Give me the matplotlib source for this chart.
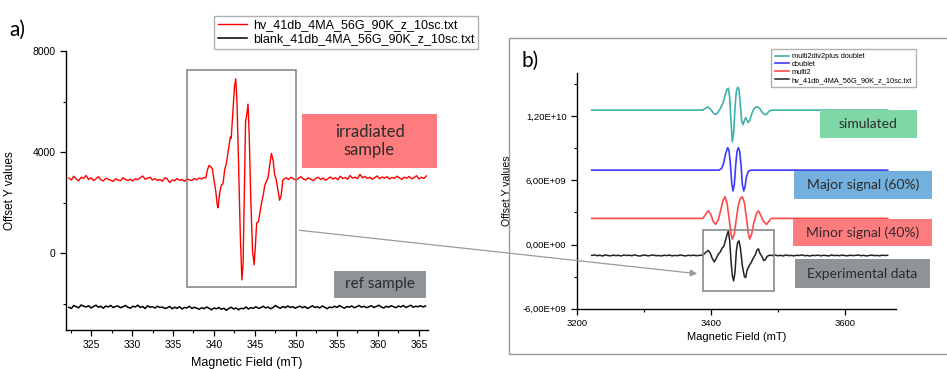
import matplotlib
matplotlib.use("Agg")
import matplotlib.pyplot as plt
from matplotlib.patches import Rectangle, FancyArrowPatch
from matplotlib.ticker import MultipleLocator, FuncFormatter
import numpy as np

plt.rcParams['font.family'] = ['Liberation Sans', 'DejaVu Sans']

# ---- panel a) data, field in mT, intensity in a.u. ----
# baseline sweeps read at 0.3 mT steps
red_left = [2980, 2900, 3050, 2940, 2870, 3010, 2960, 3080, 2920, 2990,
	2880, 2950, 3030, 2910, 2860, 2970, 2930, 2890, 2840, 2950,
	2900, 2870, 2990, 2920, 2880, 2930, 2860, 2950, 2910, 2990,
	3060, 2930, 2970, 3010, 2900, 2960, 2880, 2920, 2850, 2990,
	2940, 2800, 2900, 2870, 2960, 2890, 2920, 2850, 2950, 2900,
	2880, 2960, 2910, 2980, 2940, 3000]
red_peak_x = [339.0, 339.2, 339.4, 339.6, 339.8, 340.0, 340.2, 340.4, 340.5, 340.7,
	340.9, 341.1, 341.3, 341.5, 341.6, 341.8, 342.0, 342.1, 342.3, 342.5,
	342.65, 342.8, 343.0, 343.2, 343.4, 343.55, 343.7, 343.85, 344.0, 344.15,
	344.3, 344.5, 344.7, 344.9, 345.05, 345.2, 345.4, 345.6, 345.8, 346.0,
	346.2, 346.4, 346.6, 346.8, 347.0, 347.2, 347.4, 347.6, 347.8, 348.0,
	348.2, 348.4, 348.6]
red_peak_y = [2980, 3300, 3480, 3420, 3350, 2900, 2500, 1900, 1800, 2400,
	2700, 2750, 3300, 3550, 3750, 4200, 4600, 4550, 5600, 6600,
	6900, 6000, 3500, 800, -1050, -400, 2500, 5200, 5500, 5900,
	4600, 2000, 100, -450, 300, 1200, 1250, 1600, 2000, 2300,
	2700, 2850, 3000, 3500, 3950, 3700, 3100, 2900, 2500, 2100,
	2300, 2900, 2950]
red_right = [2990, 2920, 3010, 2950, 2880, 2970, 3030, 2940, 2900, 2990,
	2930, 2870, 2960, 3010, 2920, 2980, 2890, 2950, 3020, 2940,
	2990, 2910, 3050, 2960, 3000, 2930, 3080, 2970, 3010, 2950,
	3120, 2990, 3040, 2960, 3010, 2930, 2990, 3060, 2950, 3020,
	2970, 3030, 2940, 3000, 2960, 3050, 2990, 2920, 3010, 2970,
	3040, 2950, 2990, 3070, 2940, 3010, 2960, 3060]
blank = [-2130, -2180, -2060, -2110, -2150, -2040, -2090, -2120, -2070, -2160,
	-2100, -2050, -2130, -2090, -2170, -2080, -2120, -2060, -2140, -2100,
	-2080, -2150, -2110, -2060, -2130, -2170, -2090, -2120, -2050, -2140,
	-2100, -2180, -2070, -2130, -2110, -2160, -2090, -2140, -2120, -2180,
	-2150, -2100, -2190, -2130, -2170, -2110, -2200, -2140, -2160, -2090,
	-2180, -2130, -2170, -2210, -2150, -2190, -2120, -2170, -2230, -2160,
	-2190, -2140, -2210, -2170, -2250, -2180, -2130, -2200, -2160, -2230,
	-2170, -2190, -2120, -2200, -2140, -2180, -2110, -2170, -2150, -2090,
	-2160, -2120, -2190, -2140, -2060, -2130, -2170, -2100, -2150, -2080,
	-2140, -2110, -2170, -2120, -2090, -2150, -2100, -2180, -2130, -2070,
	-2140, -2110, -2160, -2080, -2130, -2190, -2120, -2150, -2090, -2140,
	-2060, -2120, -2170, -2100, -2130, -2080, -2150, -2110, -2060, -2130,
	-2090, -2150, -2110, -2070, -2140, -2100, -2050, -2120, -2160, -2090,
	-2130, -2070, -2110, -2150, -2080, -2120, -2060, -2140, -2100, -2050,
	-2130, -2090, -2110, -2070, -2120, -2080]
labels_a = ["hv_41db_4MA_56G_90K_z_10sc.txt", "blank_41db_4MA_56G_90K_z_10sc.txt"]

# ---- panel b) data, intensity in units of 1e9 ----
sim_x = [3222, 3388, 3392, 3396, 3400, 3404, 3407, 3410, 3414, 3418,
	3421, 3424, 3426, 3428, 3430, 3432, 3434, 3436, 3438, 3440,
	3442, 3444, 3446, 3448, 3450, 3452, 3454, 3456, 3458, 3461,
	3464, 3467, 3470, 3473, 3476, 3480, 3483, 3486, 3490, 3664]
sim_y = [12.56, 12.56, 12.75, 12.85, 12.6, 12.25, 12.15, 12.3, 12.7, 13.2,
	13.9, 14.5, 14.6, 13.8, 11.5, 9.6, 10.5, 12.8, 14.3, 14.7,
	14.5, 13.0, 11.5, 11.2, 11.6, 11.85, 11.6, 11.4, 11.6, 12.2,
	12.65, 12.85, 12.85, 12.7, 12.4, 12.15, 12.15, 12.4, 12.56, 12.56]
doublet_x = [3222, 3412, 3416, 3419, 3422, 3425, 3427, 3429, 3431, 3433,
	3435, 3437, 3439, 3441, 3443, 3445, 3447, 3449, 3451, 3453,
	3456, 3460, 3664]
doublet_y = [6.95, 6.95, 7.1, 7.6, 8.5, 9.05, 8.8, 7.6, 5.8, 5.0,
	5.6, 7.4, 8.7, 9.05, 8.7, 7.4, 5.6, 5.0, 5.4, 6.3,
	6.85, 6.95, 6.95]
multi2_x = [3222, 3388, 3392, 3396, 3400, 3403, 3407, 3411, 3415, 3418,
	3421, 3424, 3427, 3430, 3432, 3435, 3438, 3441, 3444, 3447,
	3450, 3453, 3456, 3458, 3461, 3464, 3468, 3471, 3474, 3478,
	3483, 3487, 3490, 3664]
multi2_y = [2.44, 2.44, 2.8, 3.15, 2.8, 2.2, 1.88, 2.3, 3.3, 4.1,
	4.46, 3.9, 2.5, 1.0, 0.5, 1.0, 2.4, 3.7, 4.3, 4.46,
	3.9, 2.5, 1.0, 0.5, 1.0, 2.0, 2.9, 3.15, 2.8, 2.2,
	1.88, 2.2, 2.44, 2.44]
# experimental trace: baseline read at 4 mT steps + signal region
exp_left = [-1.02, -0.98, -1.05, -1.00, -1.08, -0.97, -1.03, -1.06, -0.99, -1.04,
	-1.01, -1.07, -0.98, -1.03, -1.00, -1.05, -0.97, -1.04, -1.08, -1.01,
	-0.99, -1.06, -1.02, -0.98, -1.05, -1.03, -1.07, -1.00, -1.04, -0.99,
	-1.06, -1.02, -1.05, -0.98, -1.03, -1.07, -1.01, -1.04, -0.99, -1.05,
	-1.02, -1.00]
exp_sig_x = [3388, 3392, 3396, 3399, 3402, 3405, 3408, 3411, 3414, 3417,
	3419, 3421, 3424, 3426, 3428, 3430, 3432, 3434, 3436, 3438,
	3440, 3442, 3444, 3447, 3450, 3452, 3454, 3457, 3460, 3463,
	3466, 3469, 3471, 3473, 3476, 3479, 3481, 3484, 3488]
exp_sig_y = [-1.0, -0.75, -0.55, -0.8, -1.3, -1.63, -1.3, -0.9, -0.7, -0.3,
	-0.2, 0.2, 0.9, 1.27, 0.4, -1.5, -2.9, -3.4, -2.6, -0.6,
	0.2, 0.34, -0.3, -2.0, -3.0, -3.09, -2.4, -2.0, -1.7, -1.3,
	-1.0, -0.5, -0.4, -0.8, -1.1, -1.5, -1.45, -1.1, -1.0]
exp_right = [-1.03, -0.99, -1.05, -1.01, -1.07, -0.98, -1.04, -1.02, -1.06, -1.00,
	-1.03, -0.97, -1.05, -1.02, -1.08, -1.00, -1.04, -0.99, -1.06, -1.01,
	-1.03, -1.07, -0.98, -1.04, -1.01, -1.05, -0.99, -1.03, -1.06, -1.00,
	-1.04, -1.02, -0.98, -1.05, -1.01, -1.07, -1.03, -0.99, -1.04, -1.02,
	-1.06, -1.00, -1.03, -1.01]
labels_b = ["multi2div2plus doublet", "doublet", "multi2", "hv_41db_4MA_56G_90K_z_10sc.txt"]

W, H = 947.0, 369.0

def px(x, y):
	#pixel position (from top left) -> figure fraction
	return x / W, 1 - y / H

def label_box(fig, x0, y0, x1, y1, color, text, size):
	fx, fy = px(x0, y1)
	fig.patches.append(Rectangle((fx, fy), (x1 - x0) / W, (y1 - y0) / H,
		transform=fig.transFigure, facecolor=color, edgecolor='none', zorder=5))
	cx, cy = px((x0 + x1) / 2, (y0 + y1) / 2)
	fig.text(cx, cy, text, ha='center', va='center', fontsize=size, color='#2b2b2b',
		family=['Lato', 'DejaVu Sans'], zorder=6, linespacing=1.15)

def style_axes(ax):
	for s in ['top', 'right']:
		ax.spines[s].set_visible(False)
	for s in ['left', 'bottom']:
		ax.spines[s].set_linewidth(1.0)
	ax.tick_params(which='major', direction='out', length=4, width=0.9)
	ax.tick_params(which='minor', direction='out', length=2.2, width=0.8)

def main():
	fig = plt.figure(figsize=(9.47, 3.69), dpi=100)

	# ---------------- panel a ----------------
	x0, y0 = px(66, 51)
	x1, y1 = px(428, 330)
	ax = fig.add_axes([x0, y1, x1 - x0, y0 - y1])
	field_left = 322.3 + 0.3 * np.arange(len(red_left))
	field_right = 348.8 + 0.3 * np.arange(len(red_right))
	hv_x = np.concatenate([field_left, red_peak_x, field_right])
	hv_y = np.concatenate([red_left, red_peak_y, red_right])
	blank_x = 322.3 + 0.3 * np.arange(len(blank))
	ax.plot(hv_x, hv_y, color='#ff0000', lw=1.0, label=labels_a[0])
	ax.plot(blank_x, blank, color='black', lw=1.1, label=labels_a[1])
	ax.set_xlim(321.95, 366.1)
	ax.set_ylim(-3030, 8000)
	ax.xaxis.set_major_locator(MultipleLocator(5))
	ax.xaxis.set_minor_locator(MultipleLocator(2.5))
	ax.yaxis.set_major_locator(MultipleLocator(4000))
	ax.yaxis.set_minor_locator(MultipleLocator(2000))
	style_axes(ax)
	ax.tick_params(labelsize=7.5)
	ax.add_patch(Rectangle((336.75, -1343), 13.24, 8608, fill=False,
		edgecolor='#8a8a8a', lw=1.2, zorder=3))
	ax.set_xlabel("Magnetic Field (mT)", fontsize=9)
	ax.set_ylabel("Offset Y values", fontsize=8.5)
	ax.xaxis.set_label_coords(0.5, -0.095)
	ax.yaxis.set_label_coords(-0.137, 0.5)
	lx, ly = px(214, 15.7)
	ax.legend(loc='upper left', bbox_to_anchor=(lx, ly), bbox_transform=fig.transFigure,
		fontsize=9, frameon=True, fancybox=False, edgecolor='#b0b0b0', framealpha=1,
		handlelength=2.3, borderpad=0.3, labelspacing=0.15, handletextpad=0.5,
		borderaxespad=0)
	fig.text(*px(17, 30), "a)", fontsize=15, ha='center', va='center',
		family=['Lato', 'DejaVu Sans'])

	# ---------------- panel b ----------------
	bx0, by0 = px(509, 354.3)
	fig.patches.append(Rectangle((bx0, by0), 0.5, (354.3 - 38.3) / H, transform=fig.transFigure,
		fill=False, edgecolor='#9a9a9a', lw=1.0, zorder=0))
	x0, y0 = px(577, 73.3)
	x1, y1 = px(895.7, 308.7)
	bx = fig.add_axes([x0, y1, x1 - x0, y0 - y1])
	exp_x = np.concatenate([3222 + 4 * np.arange(len(exp_left)), exp_sig_x,
		3492 + 4 * np.arange(len(exp_right))])
	exp_y = np.concatenate([exp_left, exp_sig_y, exp_right])
	bx.plot(sim_x, np.array(sim_y) * 1e9, color='#3fb0aa', lw=1.2, label=labels_b[0])
	bx.plot(doublet_x, np.array(doublet_y) * 1e9, color='#3b3bff', lw=1.2, label=labels_b[1])
	bx.plot(multi2_x, np.array(multi2_y) * 1e9, color='#ff4a4a', lw=1.2, label=labels_b[2])
	bx.plot(exp_x, exp_y * 1e9, color='#222222', lw=1.1, label=labels_b[3])
	bx.set_xlim(3200, 3676)
	bx.set_ylim(-6e9, 1.6e10)
	bx.xaxis.set_major_locator(MultipleLocator(200))
	bx.xaxis.set_minor_locator(MultipleLocator(100))
	bx.yaxis.set_major_locator(MultipleLocator(6e9))
	bx.yaxis.set_minor_locator(MultipleLocator(3e9))
	bx.yaxis.set_major_formatter(FuncFormatter(lambda v, p: f"{v:.2E}".replace('.', ',')))
	style_axes(bx)
	bx.tick_params(labelsize=6.8)
	bx.add_patch(Rectangle((3388, -4.36e9), 106.5, 5.7e9, fill=False,
		edgecolor='#8a8a8a', lw=1.2, zorder=3))
	bx.set_xlabel("Magnetic Field (mT)", fontsize=8)
	bx.set_ylabel("Offset Y values", fontsize=7.5)
	bx.xaxis.set_label_coords(0.5, -0.1)
	bx.yaxis.set_label_coords(-0.205, 0.5)
	lx, ly = px(771, 49.3)
	bx.legend(loc='upper left', bbox_to_anchor=(lx, ly), bbox_transform=fig.transFigure,
		fontsize=5.3, frameon=True, fancybox=False, edgecolor='#b0b0b0', framealpha=1,
		handlelength=2.0, borderpad=0.5, labelspacing=0.1, handletextpad=0.3,
		borderaxespad=0)
	fig.text(*px(530, 61), "b)", fontsize=15, ha='center', va='center',
		family=['Lato', 'DejaVu Sans'])

	# coloured annotation boxes
	label_box(fig, 302.3, 114.3, 436.7, 167.7, '#ff7c7e', "irradiated\nsample", 12)
	label_box(fig, 334, 270.7, 426, 297.7, '#8e9398', "ref sample", 11)
	label_box(fig, 820, 110, 916.7, 137.7, '#7ed7a5', "simulated", 10)
	label_box(fig, 794.3, 170.7, 931.7, 199, '#74b0de', "Major signal (60%)", 10)
	label_box(fig, 793.3, 218.7, 931.7, 246, '#ff7c7e', "Minor signal (40%)", 10)
	label_box(fig, 795, 259.3, 930, 287.7, '#8e9398', "Experimental data", 10)

	# zoom arrow from a) box to b) box
	fig.patches.append(FancyArrowPatch(px(296.7, 230), px(700, 274), transform=fig.transFigure,
		arrowstyle='-|>', mutation_scale=10, color='#9a9a9a', lw=0.9, zorder=7))

	fig.savefig("out.png", dpi=100)

if __name__ == "__main__":
	main()
